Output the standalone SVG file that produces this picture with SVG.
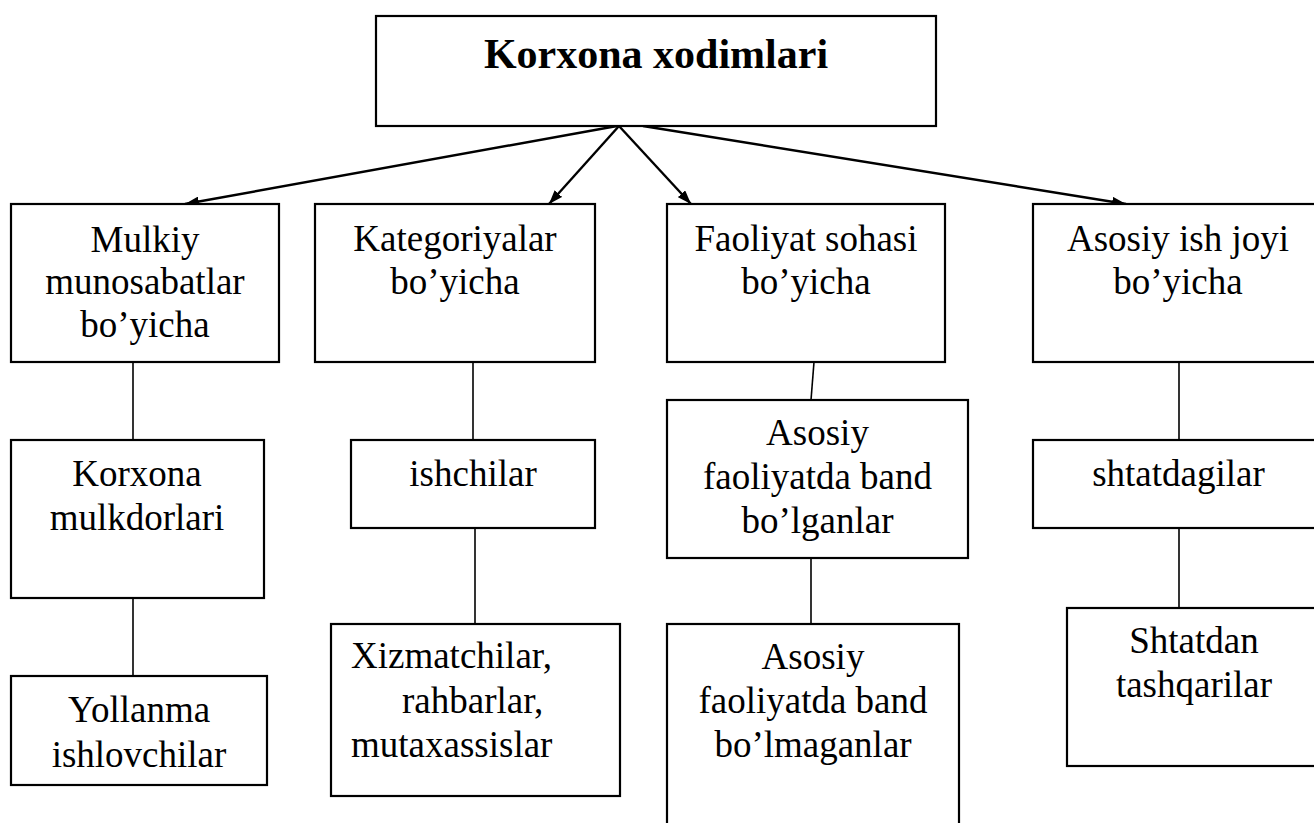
<svg xmlns="http://www.w3.org/2000/svg" width="1314" height="823" viewBox="0 0 1314 823">
<style>
.box{fill:#fff;stroke:#000;stroke-width:2.2}
.t{font-family:"Liberation Serif","Times New Roman",serif;font-size:37px;fill:#000}
.c{text-anchor:middle}
.title{font-family:"Liberation Serif","Times New Roman",serif;font-size:42px;font-weight:bold;text-anchor:middle;fill:#000}
.arr{stroke:#000;stroke-width:2.4;fill:none}
.ln{stroke:#000;stroke-width:1.6;fill:none}
</style>
<defs>
<marker id="ah" viewBox="0 0 14 10" refX="14" refY="5" markerWidth="14" markerHeight="10" markerUnits="userSpaceOnUse" orient="auto">
<path d="M0,0 L14,5 L0,10 Z" fill="#000"/>
</marker>
</defs>
<rect width="1314" height="823" fill="#fff"/>
<g id="connectors">
<line class="arr" x1="617" y1="126" x2="185" y2="204" marker-end="url(#ah)"/>
<line class="arr" x1="619" y1="126" x2="549" y2="204" marker-end="url(#ah)"/>
<line class="arr" x1="619" y1="126" x2="691" y2="204" marker-end="url(#ah)"/>
<line class="arr" x1="643" y1="126" x2="1126" y2="204" marker-end="url(#ah)"/>
<line class="ln" x1="133" y1="362" x2="133" y2="440"/>
<line class="ln" x1="133" y1="598" x2="133" y2="676"/>
<line class="ln" x1="473" y1="362" x2="473" y2="440"/>
<line class="ln" x1="475" y1="528" x2="475" y2="624"/>
<line class="ln" x1="814" y1="362" x2="811" y2="400"/>
<line class="ln" x1="811" y1="558" x2="811" y2="624"/>
<line class="ln" x1="1179" y1="362" x2="1179" y2="440"/>
<line class="ln" x1="1179" y1="528" x2="1179" y2="608"/>
</g>
<g id="n-root">
<rect class="box" x="376" y="16" width="560" height="110"/>
<text class="title" x="656" y="68">Korxona xodimlari</text>
</g>
<g id="n-mulkiy">
<rect class="box" x="11" y="204" width="268" height="158"/>
<text class="t c" x="145" y="252">Mulkiy</text>
<text class="t c" x="145" y="294">munosabatlar</text>
<text class="t c" x="145" y="337">bo’yicha</text>
</g>
<g id="n-kategoriya">
<rect class="box" x="315" y="204" width="280" height="158"/>
<text class="t c" x="455" y="251">Kategoriyalar</text>
<text class="t c" x="455" y="294">bo’yicha</text>
</g>
<g id="n-faoliyat">
<rect class="box" x="667" y="204" width="278" height="158"/>
<text class="t c" x="806" y="251">Faoliyat sohasi</text>
<text class="t c" x="806" y="294">bo’yicha</text>
</g>
<g id="n-asosiy-ish">
<rect class="box" x="1033" y="204" width="300" height="158"/>
<text class="t c" x="1178" y="251">Asosiy ish joyi</text>
<text class="t c" x="1178" y="294">bo’yicha</text>
</g>
<g id="n-mulkdorlar">
<rect class="box" x="11" y="440" width="253" height="158"/>
<text class="t c" x="137" y="486">Korxona</text>
<text class="t c" x="137" y="530">mulkdorlari</text>
</g>
<g id="n-yollanma">
<rect class="box" x="11" y="676" width="256" height="109"/>
<text class="t c" x="139" y="722">Yollanma</text>
<text class="t c" x="139" y="767">ishlovchilar</text>
</g>
<g id="n-ishchilar">
<rect class="box" x="351" y="440" width="244" height="88"/>
<text class="t c" x="473" y="486">ishchilar</text>
</g>
<g id="n-xizmatchilar">
<rect class="box" x="331" y="624" width="289" height="172"/>
<text class="t" x="351" y="668">Xizmatchilar,</text>
<text class="t" x="402" y="713">rahbarlar,</text>
<text class="t" x="351" y="757">mutaxassislar</text>
</g>
<g id="n-band">
<rect class="box" x="667" y="400" width="301" height="158"/>
<text class="t c" x="817.5" y="445">Asosiy</text>
<text class="t c" x="817.5" y="489">faoliyatda band</text>
<text class="t c" x="817.5" y="533">bo’lganlar</text>
</g>
<g id="n-bandemas">
<rect class="box" x="667" y="624" width="292" height="220"/>
<text class="t c" x="813" y="669">Asosiy</text>
<text class="t c" x="813" y="713">faoliyatda band</text>
<text class="t c" x="813" y="757">bo’lmaganlar</text>
</g>
<g id="n-shtatdagilar">
<rect class="box" x="1033" y="440" width="300" height="88"/>
<text class="t c" x="1178.5" y="486">shtatdagilar</text>
</g>
<g id="n-shtatdan">
<rect class="box" x="1067" y="608" width="266" height="158"/>
<text class="t c" x="1194" y="653">Shtatdan</text>
<text class="t c" x="1194" y="697">tashqarilar</text>
</g>
</svg>
